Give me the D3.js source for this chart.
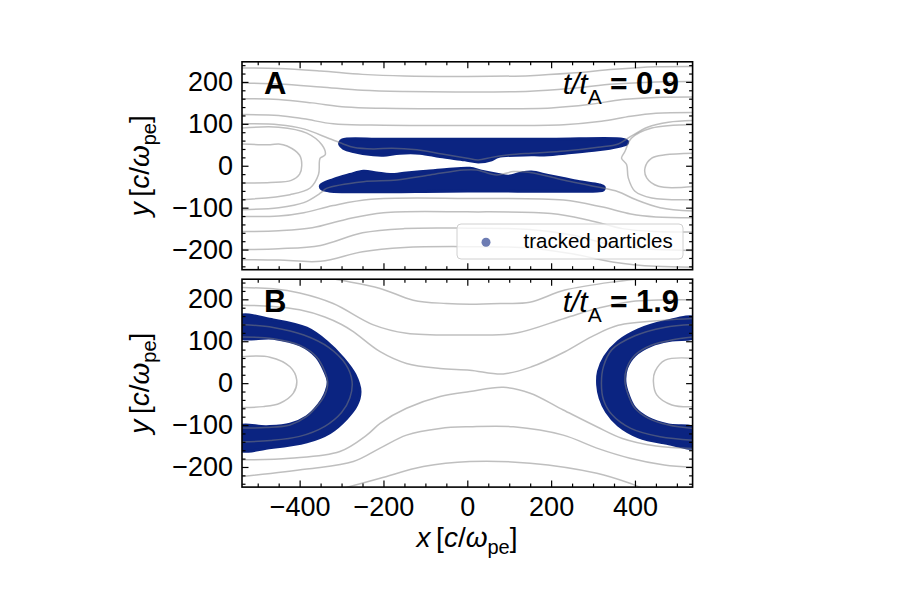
<!DOCTYPE html>
<html><head><meta charset="utf-8">
<script src="https://cdn.jsdelivr.net/npm/d3@7"></script>
<style>
body{margin:0;background:#fff}
text{font-family:"Liberation Sans",Arial,Helvetica,sans-serif}
</style></head>
<body><svg id="c" width="900" height="611"></svg>
<script>
// ---------- data ----------
const xTicks=[-400,-200,0,200,400];
const xMinor=[-500,-450,-350,-300,-250,-150,-100,-50,50,100,150,250,300,350,450,500];
const yTicks=[-200,-100,0,100,200];
const yMinor=[-240,-220,-180,-160,-140,-120,-80,-60,-40,-20,20,40,60,80,120,140,160,180,220,240];
const xDomain=[-537.5,537.5];
const yDomain=[-248,248];
const panelLetters=["A","B"];
const timeValues=["0.9","1.9"];
const legendLabel="tracked particles";

// panel A field lines
const linesA=[
 [[-538,233],[-450,232],[-350,226],[-250,218],[-150,214],[0,213],[150,215],[250,221],[350,230],[450,236],[538,237]],
 [[-538,197],[-450,195],[-350,188],[-250,180],[-150,177],[0,176],[150,178],[250,185],[350,195],[450,200],[538,201]],
 [[-538,160],[-450,158],[-370,150],[-290,140],[-200,137],[0,136],[200,138],[290,146],[370,158],[450,163],[538,164]],
 [[-538,122],[-450,120],[-390,112],[-320,100],[-230,97],[0,96],[230,98],[320,106],[390,118],[450,125],[538,127]],
 [[-538,100],[-450,98],[-390,88],[-330,65],[-296,52],[-272,44],[-224,40],[-180,42],[-120,38],[-60,28],[0,18],[26,14],[58,20],[100,26],[153,30],[233,35],[312,44],[360,52],[390,70],[430,92],[480,104],[538,108]],
 [[-538,-105],[-450,-100],[-390,-88],[-350,-65],[-336,-54],[-248,-38],[-168,-34],[-89,-22],[-9,-10],[22,-10],[70,-22],[110,-14],[150,-16],[229,-34],[308,-50],[360,-62],[400,-80],[460,-100],[538,-108]],
 [[-538,-121],[-450,-120],[-390,-112],[-320,-95],[-230,-80],[0,-78],[230,-82],[320,-98],[390,-115],[450,-122],[538,-124]],
 [[-538,-157],[-450,-155],[-370,-148],[-290,-128],[-200,-112],[0,-110],[200,-114],[290,-130],[370,-150],[450,-157],[538,-158]],
 [[-538,-200],[-450,-198],[-350,-190],[-250,-160],[-150,-150],[0,-149],[150,-152],[250,-165],[350,-190],[450,-200],[538,-202]],
 [[-538,-224],[-450,-225],[-350,-228],[-250,-205],[-150,-195],[0,-193],[150,-196],[250,-210],[350,-230],[450,-240],[538,-242]],
 [[-538,52],[-470,50],[-450,52],[-430,47],[-400,25],[-395,0],[-400,-20],[-420,-35],[-470,-40],[-538,-41]],
 [[-538,90],[-450,92],[-383,78],[-347,50],[-339,26],[-351,18],[-355,-21],[-375,-53],[-423,-69],[-538,-81]],
 [[543,30],[472,26],[440,18],[424,-5],[428,-29],[456,-49],[543,-49]],
 [[543,98],[440,90],[392,66],[376,34],[368,18],[380,3],[384,-29],[400,-61],[440,-77],[543,-81]]
];
// panel A particle regions (outline of the tracked particle cloud)
const particlesA=[
 [[-304,56],[-298,62],[-200,63],[0,63],[200,63],[372,63],[382,58],[380,52],[360,46],[312,38],[233,30],[193,26],[153,26],[74,22],[58,14],[26,9],[-6,14],[-65,22],[-113,30],[-161,30],[-200,25],[-224,26],[-272,34],[-296,42],[-304,50]],
 [[-350,-47],[-320,-33],[-280,-21],[-248,-13],[-216,-17],[-184,-21],[-145,-17],[-97,-13],[-49,-9],[6,-6],[34,-13],[74,-21],[98,-25],[130,-17],[153,-15],[193,-23],[233,-31],[273,-39],[313,-45],[326,-50],[324,-58],[310,-60],[0,-60],[-330,-60],[-348,-55]]
];
// panel B field lines
const linesB=[
 [[-538,63],[-471,62],[-423,39],[-407,8],[-415,-24],[-447,-48],[-487,-56],[-538,-58]],
 [[543,59],[472,55],[448,28],[444,4],[452,-28],[488,-52],[543,-56]],
 [[-538,110],[-463,106],[-399,90],[-360,63],[-340,28],[-333,0],[-340,-28],[-356,-52],[-384,-80],[-423,-100],[-479,-106],[-538,-107]],
 [[538,110],[487,103],[440,91],[400,67],[380,35],[376,4],[384,-28],[400,-60],[432,-84],[480,-100],[538,-108]],
 [[-538,140],[-463,133],[-390,115],[-330,85],[-290,45],[-275,5],[-280,-35],[-300,-70],[-340,-103],[-400,-127],[-470,-137],[-538,-140]],
 [[538,140],[470,133],[400,113],[345,80],[325,40],[320,0],[325,-40],[345,-75],[390,-108],[460,-128],[538,-136]],
 [[-538,186],[-463,183],[-400,175],[-340,158],[-300,140],[-272,123],[-208,75],[-145,47],[-65,35],[6,31],[86,22],[153,39],[233,75],[297,111],[360,138],[470,150],[538,154]],
 [[-538,228],[-463,225],[-400,215],[-320,190],[-224,139],[-145,119],[6,115],[114,119],[233,155],[313,179],[392,195],[538,199]],
 [[-380,260],[-304,246],[-208,226],[-129,198],[-50,190],[6,188],[86,190],[149,193],[233,222],[352,242],[471,254]],
 [[-538,-183],[-423,-179],[-304,-163],[-240,-124],[-208,-96],[-145,-60],[-65,-32],[6,-20],[86,-10],[150,-24],[229,-64],[309,-104],[370,-132],[450,-150],[538,-156]],
 [[-538,-223],[-383,-205],[-272,-187],[-208,-155],[-145,-124],[-65,-108],[6,-104],[110,-104],[229,-124],[309,-155],[388,-179],[470,-195],[538,-200]],
 [[-300,-252],[-208,-227],[-105,-199],[6,-187],[150,-191],[309,-215],[388,-239],[420,-252]]
];
// panel B particle regions (annuli around the islands)
const particlesB=[
 [[-545,159],[-463,151],[-383,131],[-336,99],[-296,59],[-268,20],[-256,-20],[-264,-52],[-288,-84],[-328,-118],[-383,-140],[-463,-153],[-545,-158],
  [-545,-104],[-479,-104],[-423,-98],[-383,-80],[-355,-52],[-340,-28],[-332,4],[-340,28],[-360,63],[-399,91],[-463,107],[-545,111]],
 [[545,155],[472,147],[408,127],[360,99],[328,63],[313,28],[311,-4],[317,-36],[332,-68],[360,-100],[408,-128],[472,-143],[545,-152],
  [545,-108],[480,-100],[432,-84],[400,-60],[384,-28],[376,4],[380,36],[400,67],[440,91],[488,103],[545,111]]
];

// ---------- drawing ----------
const svg=d3.select("#c");
const x=d3.scaleLinear().domain(xDomain).range([242.0,692.6]);
const panels=[{top:61.8,bottom:269.7},{top:279.2,bottom:487.1}];
panels.forEach(p=>{p.y=d3.scaleLinear().domain(yDomain).range([p.bottom,p.top]);});
const navy="#0b2481";
const lineData=[linesA,linesB], partData=[particlesA,particlesB];

panels.forEach((p,i)=>{
  const y=p.y;
  const cid="clip"+i;
  svg.append("clipPath").attr("id",cid).append("rect")
    .attr("x",x.range()[0]).attr("y",p.top).attr("width",x.range()[1]-x.range()[0]).attr("height",p.bottom-p.top);
  const g=svg.append("g").attr("clip-path",`url(#${cid})`);
  const area=d3.line().x(d=>x(d[0])).y(d=>y(d[1])).curve(d3.curveCatmullRomClosed.alpha(0.5));
  g.selectAll("path.part").data(partData[i]).join("path").attr("class","part")
    .attr("d",area).attr("fill",navy).attr("stroke",navy).attr("stroke-width",3).attr("stroke-linejoin","round");
  const ln=d3.line().x(d=>x(d[0])).y(d=>y(d[1])).curve(d3.curveCatmullRom.alpha(0.5));
  g.selectAll("path.fl").data(lineData[i]).join("path").attr("class","fl")
    .attr("d",ln).attr("fill","none").attr("stroke","#808080").attr("stroke-opacity",0.5).attr("stroke-width",1.5);

  // axes
  const ax=(a,tr)=>{const s=svg.append("g").attr("transform",tr).call(a);s.select(".domain").remove();s.selectAll("line").attr("stroke","#000").attr("stroke-width",1.2);return s;};
  const l=ax(d3.axisLeft(y).tickValues(yTicks).tickSizeInner(-6.5).tickSizeOuter(0).tickPadding(9),`translate(${x.range()[0]},0)`);
  l.selectAll("text").attr("font-size",27).attr("fill","#000").attr("font-family","Liberation Sans, Arial, sans-serif");
  ax(d3.axisLeft(y).tickValues(yMinor).tickSize(-3.5).tickFormat(""),`translate(${x.range()[0]},0)`);
  ax(d3.axisRight(y).tickValues(yTicks).tickSize(-6.5).tickFormat(""),`translate(${x.range()[1]},0)`);
  ax(d3.axisRight(y).tickValues(yMinor).tickSize(-3.5).tickFormat(""),`translate(${x.range()[1]},0)`);
  ax(d3.axisTop(x).tickValues(xTicks).tickSize(-6.5).tickFormat(""),`translate(0,${p.top})`);
  ax(d3.axisTop(x).tickValues(xMinor).tickSize(-3.5).tickFormat(""),`translate(0,${p.top})`);
  const b=ax(d3.axisBottom(x).tickValues(xTicks).tickSizeInner(-6.5).tickSizeOuter(0).tickPadding(10).tickFormat(i===1?null:""),`translate(0,${p.bottom})`);
  b.selectAll("text").attr("font-size",27).attr("fill","#000").attr("font-family","Liberation Sans, Arial, sans-serif");
  ax(d3.axisBottom(x).tickValues(xMinor).tickSize(-3.5).tickFormat(""),`translate(0,${p.bottom})`);
  svg.append("rect").attr("x",x.range()[0]).attr("y",p.top).attr("width",x.range()[1]-x.range()[0]).attr("height",p.bottom-p.top)
    .attr("fill","none").attr("stroke","#000").attr("stroke-width",1.6);

  // panel letter
  svg.append("text").attr("x",264).attr("y",p.top+32.5).attr("font-size",31).attr("font-weight","bold").text(panelLetters[i]);
  // time label
  const t=svg.append("text").attr("x",679).attr("y",p.top+32.5).attr("text-anchor","end").attr("font-size",30);
  t.append("tspan").attr("font-style","italic").text("t/t");
  t.append("tspan").attr("font-size",21).attr("dy",10).text("A");
  t.append("tspan").attr("dy",-10).attr("font-weight","bold").attr("font-size",30).text(" = ");
  t.append("tspan").attr("font-weight","bold").attr("font-size",31).text(timeValues[i]);

  // y label
  const yl=svg.append("text").attr("transform",`translate(149,${(p.top+p.bottom)/2}) rotate(-90)`).attr("text-anchor","middle").attr("font-size",28);
  yl.append("tspan").attr("font-style","italic").text("y");
  yl.append("tspan").text("\u2009[");
  yl.append("tspan").attr("font-style","italic").text("c");
  yl.append("tspan").text("/");
  yl.append("tspan").attr("font-style","italic").text("ω");
  yl.append("tspan").attr("font-size",20).attr("dy",7).text("pe");
  yl.append("tspan").attr("dy",-7).text("]");
});

// x label
const xl=svg.append("text").attr("x",467).attr("y",547).attr("text-anchor","middle").attr("font-size",28);
xl.append("tspan").attr("font-style","italic").text("x");
xl.append("tspan").text("\u2009[");
xl.append("tspan").attr("font-style","italic").text("c");
xl.append("tspan").text("/");
xl.append("tspan").attr("font-style","italic").text("ω");
xl.append("tspan").attr("font-size",20).attr("dy",7).text("pe");
xl.append("tspan").attr("dy",-7).text("]");

// legend (panel A)
const lg=svg.append("g");
lg.append("rect").attr("x",457).attr("y",224).attr("width",226).attr("height",35).attr("rx",4)
  .attr("fill","#fff").attr("fill-opacity",0.8).attr("stroke","#d0d0d0").attr("stroke-width",1);
lg.append("circle").attr("cx",486).attr("cy",242.3).attr("r",4.5).attr("fill",navy).attr("fill-opacity",0.6);
lg.append("text").attr("x",523.5).attr("y",248).attr("font-size",20.5).text(legendLabel);
</script>
</body></html>
